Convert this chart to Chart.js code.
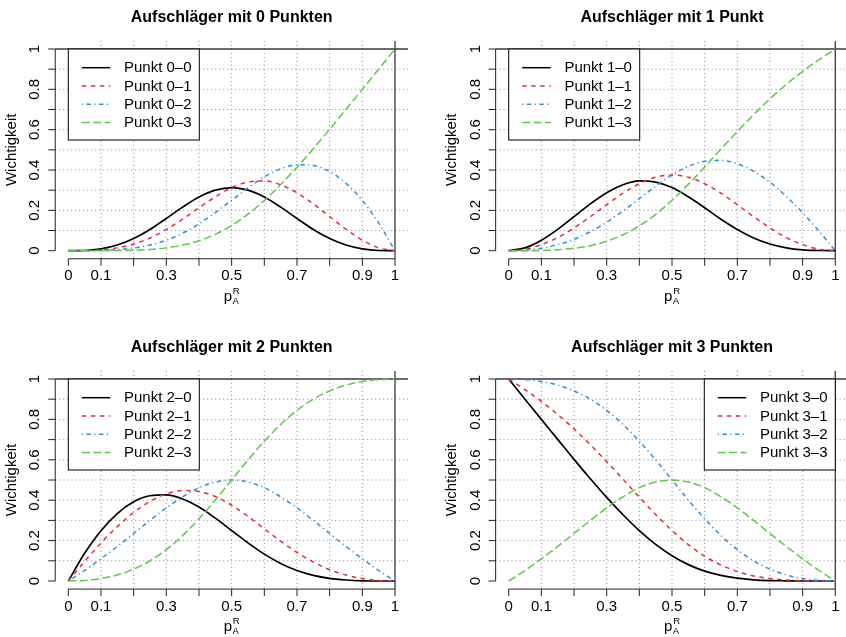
<!DOCTYPE html>
<html>
<head>
<meta charset="utf-8">
<script src="https://cdn.jsdelivr.net/npm/chart.js@4.4.1/dist/chart.umd.min.js"></script>
<style>
  html, body { margin: 0; padding: 0; overflow: hidden; background: #fff; }
  canvas { position: absolute; left: 0; top: 0; }
</style>
</head>
<body>
<canvas id="panel0" width="860" height="637"></canvas>
<canvas id="panel1" width="860" height="637"></canvas>
<canvas id="panel2" width="860" height="637"></canvas>
<canvas id="panel3" width="860" height="637"></canvas>
<script>
// x values (p_A^R) and the importance curves
const pValues = [0, 0.05, 0.1, 0.15, 0.2, 0.25, 0.3, 0.35, 0.4, 0.45, 0.5, 0.55, 0.6, 0.65, 0.7, 0.75, 0.8, 0.85, 0.9, 0.95, 1];

const punkt00 = [0, 0.001, 0.009, 0.028, 0.060, 0.105, 0.160, 0.216, 0.266, 0.300, 0.313, 0.300, 0.266, 0.216, 0.160, 0.105, 0.060, 0.028, 0.009, 0.001, 0];
const punkt01 = [0, 0.001, 0.004, 0.014, 0.033, 0.063, 0.105, 0.156, 0.213, 0.267, 0.313, 0.340, 0.346, 0.327, 0.287, 0.232, 0.169, 0.106, 0.052, 0.014, 0];
const punkt02 = [0, 0.000, 0.001, 0.005, 0.013, 0.028, 0.052, 0.087, 0.133, 0.189, 0.250, 0.311, 0.366, 0.406, 0.426, 0.422, 0.392, 0.334, 0.249, 0.137, 0];
const punkt03 = [0, 0.000, 0.000, 0.001, 0.002, 0.006, 0.014, 0.028, 0.049, 0.081, 0.125, 0.181, 0.249, 0.328, 0.414, 0.506, 0.602, 0.701, 0.800, 0.900, 1];

const punkt10 = [0, 0.014, 0.052, 0.106, 0.169, 0.232, 0.287, 0.327, 0.346, 0.340, 0.313, 0.267, 0.213, 0.156, 0.105, 0.063, 0.033, 0.014, 0.004, 0.001, 0];
const punkt11 = [0, 0.007, 0.030, 0.065, 0.113, 0.169, 0.228, 0.285, 0.332, 0.364, 0.375, 0.364, 0.332, 0.285, 0.228, 0.169, 0.113, 0.065, 0.030, 0.007, 0];
const punkt12 = [0, 0.003, 0.012, 0.030, 0.056, 0.094, 0.141, 0.197, 0.258, 0.320, 0.375, 0.418, 0.443, 0.448, 0.431, 0.394, 0.339, 0.269, 0.188, 0.097, 0];
const punkt13 = [0, 0.000, 0.001, 0.005, 0.012, 0.025, 0.047, 0.079, 0.123, 0.180, 0.250, 0.329, 0.415, 0.504, 0.591, 0.675, 0.753, 0.824, 0.889, 0.947, 1];

const punkt20 = [0, 0.137, 0.249, 0.334, 0.392, 0.422, 0.426, 0.406, 0.366, 0.311, 0.250, 0.189, 0.133, 0.087, 0.052, 0.028, 0.013, 0.005, 0.001, 0.000, 0];
const punkt21 = [0, 0.097, 0.188, 0.269, 0.339, 0.394, 0.431, 0.448, 0.443, 0.418, 0.375, 0.320, 0.258, 0.197, 0.141, 0.094, 0.056, 0.030, 0.012, 0.003, 0];
const punkt22 = [0, 0.052, 0.110, 0.171, 0.235, 0.300, 0.362, 0.417, 0.462, 0.490, 0.500, 0.490, 0.462, 0.417, 0.362, 0.300, 0.235, 0.171, 0.110, 0.052, 0];
const punkt23 = [0, 0.003, 0.012, 0.030, 0.059, 0.100, 0.155, 0.225, 0.308, 0.401, 0.500, 0.599, 0.692, 0.775, 0.845, 0.900, 0.941, 0.970, 0.988, 0.997, 1];

const punkt30 = [1, 0.900, 0.800, 0.701, 0.602, 0.506, 0.414, 0.328, 0.249, 0.181, 0.125, 0.081, 0.049, 0.028, 0.014, 0.006, 0.002, 0.001, 0.000, 0.000, 0];
const punkt31 = [1, 0.947, 0.889, 0.824, 0.753, 0.675, 0.591, 0.504, 0.415, 0.329, 0.250, 0.180, 0.123, 0.079, 0.047, 0.025, 0.012, 0.005, 0.001, 0.000, 0];
const punkt32 = [1, 0.997, 0.988, 0.970, 0.941, 0.900, 0.845, 0.775, 0.692, 0.599, 0.500, 0.401, 0.308, 0.225, 0.155, 0.100, 0.059, 0.030, 0.012, 0.003, 0];
const punkt33 = [0, 0.052, 0.110, 0.171, 0.235, 0.300, 0.362, 0.417, 0.462, 0.490, 0.500, 0.490, 0.462, 0.417, 0.362, 0.300, 0.235, 0.171, 0.110, 0.052, 0];

const panelTitles = ['Aufschläger mit 0 Punkten', 'Aufschläger mit 1 Punkt', 'Aufschläger mit 2 Punkten', 'Aufschläger mit 3 Punkten'];
const panelSeries = [
    [punkt00, punkt01, punkt02, punkt03],
    [punkt10, punkt11, punkt12, punkt13],
    [punkt20, punkt21, punkt22, punkt23],
    [punkt30, punkt31, punkt32, punkt33]
];
const panelLabels = [
    ['Punkt 0–0', 'Punkt 0–1', 'Punkt 0–2', 'Punkt 0–3'],
    ['Punkt 1–0', 'Punkt 1–1', 'Punkt 1–2', 'Punkt 1–3'],
    ['Punkt 2–0', 'Punkt 2–1', 'Punkt 2–2', 'Punkt 2–3'],
    ['Punkt 3–0', 'Punkt 3–1', 'Punkt 3–2', 'Punkt 3–3']
];

const xTickValues = [0, 0.1, 0.2, 0.3, 0.4, 0.5, 0.6, 0.7, 0.8, 0.9, 1];
const xTickLabels = ['0', '0.1', '', '0.3', '', '0.5', '', '0.7', '', '0.9', '1'];
const yTickValues = [0, 0.1, 0.2, 0.3, 0.4, 0.5, 0.6, 0.7, 0.8, 0.9, 1];
const yTickLabels = ['0', '', '0.2', '', '0.4', '', '0.6', '', '0.8', '', '1'];
const gridValues = [0.1, 0.2, 0.3, 0.4, 0.5, 0.6, 0.7, 0.8, 0.9];

// styles (R-like)
const lineColors = ['#000000', '#E0303C', '#2F8FDB', '#5DC84C'];
const lineDashes = [[], [4.5, 4.5], [1.2, 3.4, 4.5, 3.4], [8, 3.4]];
const FONT = '"Liberation Sans", Arial, Helvetica, sans-serif';

// pixel position of data (0,0)-(1,1) box for every panel on the page
const panelBoxes = [
    { x0: 68.3, x1: 395, yTop: 49, yBot: 250.7, legend: 'left' },
    { x0: 508.7, x1: 835.3, yTop: 49, yBot: 250.7, legend: 'left' },
    { x0: 68.3, x1: 395, yTop: 379, yBot: 581, legend: 'left' },
    { x0: 508.7, x1: 835.3, yTop: 379, yBot: 581, legend: 'right' }
];

const rStyle = {
    id: 'rStyle',
    beforeDatasetsDraw(chart, args, opts) {
        const { ctx, chartArea: a } = chart;
        const x = chart.scales.x, y = chart.scales.y;
        ctx.save();
        // dotted grid
        ctx.strokeStyle = '#8a8a8a';
        ctx.lineWidth = 1;
        ctx.setLineDash([1, 3]);
        gridValues.forEach(v => {
            const px = x.getPixelForValue(v);
            ctx.beginPath(); ctx.moveTo(px, a.top); ctx.lineTo(px, a.bottom); ctx.stroke();
            const py = y.getPixelForValue(v);
            ctx.beginPath(); ctx.moveTo(a.left, py); ctx.lineTo(a.right, py); ctx.stroke();
        });
        // abline(h = 1, v = 1)
        ctx.setLineDash([]);
        ctx.strokeStyle = '#3a3a3a';
        ctx.lineWidth = 1.3;
        const p1x = x.getPixelForValue(1), p1y = y.getPixelForValue(1);
        ctx.beginPath(); ctx.moveTo(a.left, p1y); ctx.lineTo(a.right, p1y); ctx.stroke();
        ctx.beginPath(); ctx.moveTo(p1x, a.top); ctx.lineTo(p1x, a.bottom); ctx.stroke();
        ctx.restore();
    },
    afterDatasetsDraw(chart, args, opts) {
        const { ctx, chartArea: a } = chart;
        const x = chart.scales.x, y = chart.scales.y;
        const x0 = x.getPixelForValue(0), x1 = x.getPixelForValue(1);
        const y0 = y.getPixelForValue(0), y1 = y.getPixelForValue(1);
        ctx.save();

        // legend
        const lw = 131, lh = 91;
        const lx = opts.legend === 'right' ? x1 - lw : x0;
        const ly = y1;
        ctx.fillStyle = '#fff';
        ctx.fillRect(lx, ly, lw, lh);
        ctx.strokeStyle = '#000';
        ctx.lineWidth = 1;
        ctx.strokeRect(lx, ly, lw, lh);
        ctx.font = '15px ' + FONT;
        ctx.textBaseline = 'middle';
        ctx.textAlign = 'left';
        opts.labels.forEach((label, i) => {
            const ry = ly + 18.7 + 18.3 * i;
            ctx.strokeStyle = lineColors[i];
            ctx.lineWidth = 1.5;
            ctx.setLineDash(lineDashes[i]);
            ctx.beginPath(); ctx.moveTo(lx + 13.5, ry); ctx.lineTo(lx + 42, ry); ctx.stroke();
            ctx.setLineDash([]);
            ctx.fillStyle = '#000';
            ctx.fillText(label, lx + 55.7, ry + 0.5);
        });

        // axes
        ctx.strokeStyle = '#222';
        ctx.lineWidth = 1;
        ctx.beginPath(); ctx.moveTo(x0, a.bottom); ctx.lineTo(x1, a.bottom); ctx.stroke();
        ctx.beginPath(); ctx.moveTo(a.left, y0); ctx.lineTo(a.left, y1); ctx.stroke();
        ctx.fillStyle = '#000';
        ctx.font = '15px ' + FONT;
        ctx.textAlign = 'center';
        ctx.textBaseline = 'middle';
        xTickValues.forEach((v, i) => {
            const px = x.getPixelForValue(v);
            ctx.beginPath(); ctx.moveTo(px, a.bottom); ctx.lineTo(px, a.bottom + 7); ctx.stroke();
            if (xTickLabels[i]) ctx.fillText(xTickLabels[i], px, a.bottom + 17.5);
        });
        yTickValues.forEach((v, i) => {
            const py = y.getPixelForValue(v);
            ctx.beginPath(); ctx.moveTo(a.left, py); ctx.lineTo(a.left - 7, py); ctx.stroke();
            if (yTickLabels[i]) {
                ctx.save();
                ctx.translate(a.left - 20, py);
                ctx.rotate(-Math.PI / 2);
                ctx.fillText(yTickLabels[i], 0, 0);
                ctx.restore();
            }
        });

        // y axis title
        ctx.save();
        ctx.translate(a.left - 43.5, (y0 + y1) / 2);
        ctx.rotate(-Math.PI / 2);
        ctx.fillText('Wichtigkeit', 0, 0);
        ctx.restore();

        // x axis title p_A^R
        const cx = (x0 + x1) / 2;
        ctx.textAlign = 'left';
        ctx.textBaseline = 'alphabetic';
        ctx.font = '15px ' + FONT;
        ctx.fillText('p', cx - 8, y0 + 50);
        ctx.font = '9.5px ' + FONT;
        ctx.fillText('R', cx + 1.2, y0 + 43);
        ctx.fillText('A', cx + 0.8, y0 + 53);

        // title
        ctx.font = 'bold 16px ' + FONT;
        ctx.textAlign = 'center';
        ctx.fillText(opts.title, cx, y1 - 27.3);
        ctx.restore();
    }
};

function makePanel(i) {
    const box = panelBoxes[i];
    const w = box.x1 - box.x0, h = box.yBot - box.yTop;
    const canvas = document.getElementById('panel' + i);

    const datasets = panelSeries[i].map((vals, k) => ({
        label: panelLabels[i][k],
        data: pValues.map((p, j) => ({ x: p, y: vals[j] })),
        borderColor: lineColors[k],
        borderDash: lineDashes[k],
        borderWidth: k === 0 ? 1.7 : 1.5,
        pointRadius: 0,
        fill: false,
        cubicInterpolationMode: 'monotone',
        order: 3 - k
    }));

    new Chart(canvas, {
        type: 'line',
        data: { datasets: datasets },
        options: {
            responsive: false,
            animation: false,
            events: [],
            layout: {
                padding: {
                    left: box.x0 - 0.04 * w,
                    right: canvas.width - (box.x1 + 0.04 * w),
                    top: box.yTop - 0.04 * h,
                    bottom: canvas.height - (box.yBot + 0.04 * h)
                }
            },
            scales: {
                x: { type: 'linear', min: -0.04, max: 1.04, display: false },
                y: { type: 'linear', min: -0.04, max: 1.04, display: false }
            },
            plugins: {
                legend: { display: false },
                tooltip: { enabled: false },
                title: { display: false },
                rStyle: {
                    title: panelTitles[i],
                    labels: panelLabels[i],
                    legend: box.legend
                }
            }
        },
        plugins: [rStyle]
    });
}

[0, 1, 2, 3].forEach(makePanel);
</script>
</body>
</html>
